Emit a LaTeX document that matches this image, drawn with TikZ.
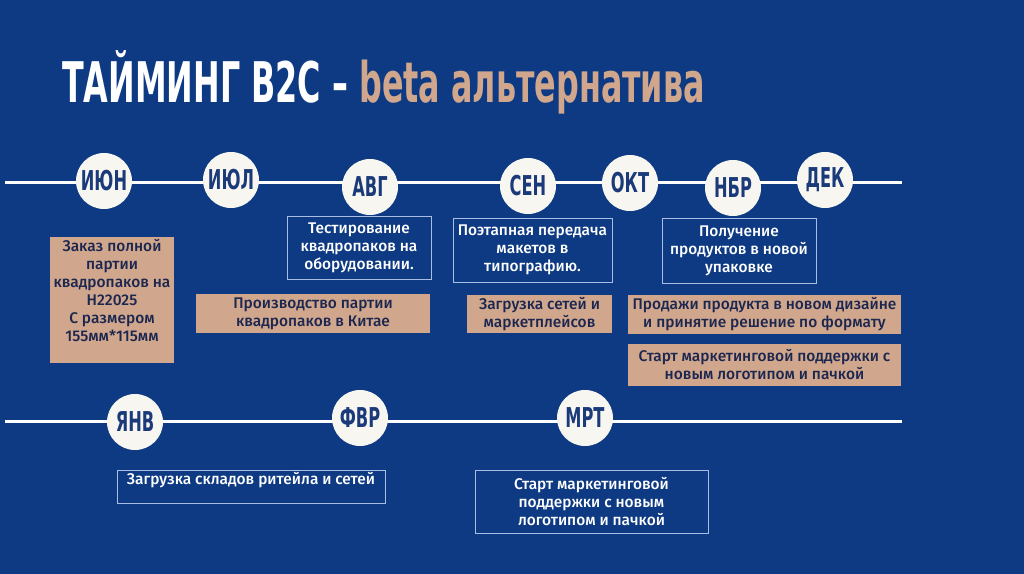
\documentclass[tikz,border=0pt]{standalone}
\usepackage{fontspec}
\usepackage{graphicx}
\setmainfont{Noto Sans}
\newfontfamily\medfont{Fira Sans}[UprightFont={* Medium}]
\newfontfamily\condfont{DejaVu Sans Condensed}
\definecolor{bgblue}{HTML}{0D3A82}
\definecolor{tan}{HTML}{D0A68C}
\definecolor{circfill}{HTML}{F8F6F1}
\definecolor{monthtxt}{HTML}{1B3A7A}
\definecolor{tantxt}{HTML}{1C2750}
\definecolor{outl}{HTML}{A9BEE3}
\newcommand{\mon}[1]{\scalebox{0.66}[1]{\condfont\bfseries\fontsize{20.5}{21}\selectfont #1}}
\tikzset{
  tline/.style={draw=white, line width=2.25pt},
  month/.style={circle, fill=circfill, minimum size=42pt, inner sep=0pt, text=monthtxt},
  bodytext/.style={font=\medfont\fontsize{11.6}{13.5}\selectfont},
  tanbox/.style={rectangle, fill=tan, inner sep=0pt, align=center, text=tantxt, bodytext},
  outbox/.style={rectangle, draw=outl, line width=0.75pt, inner sep=0pt, align=center, text=white, bodytext},
}
\begin{document}
\begin{tikzpicture}[x=0.75pt,y=-0.75pt]
\fill[bgblue] (0,0) rectangle (1024,574);
\useasboundingbox (0,0) rectangle (1024,574);
% title
\node[anchor=base west, inner sep=0pt] (title) at (62,103)
  {\resizebox{482pt}{\height}{\condfont\bfseries\fontsize{42}{44}\selectfont\textcolor{white}{ТАЙМИНГ B2C –} \textcolor{tan}{beta альтернатива}}};
% timelines
\coordinate (l1s) at (5,183);
\coordinate (l1e) at (902,183);
\coordinate (l2s) at (5,421);
\coordinate (l2e) at (902,421);
\draw[tline] (l1s) -- (l1e);
\draw[tline] (l2s) -- (l2e);
% months
\node[month] (jun) at (104,181) {\mon{ИЮН}};
\node[month] (jul) at (231,180) {\mon{ИЮЛ}};
\node[month] (aug) at (370,187) {\mon{АВГ}};
\node[month] (sep) at (528,186) {\mon{СЕН}};
\node[month] (oct) at (630,183) {\mon{ОКТ}};
\node[month] (nov) at (733,188) {\mon{НБР}};
\node[month] (dec) at (825,180) {\mon{ДЕК}};
\node[month] (jan) at (135,422) {\mon{ЯНВ}};
\node[month] (feb) at (360,418) {\mon{ФВР}};
\node[month] (mar) at (585,418) {\mon{МРТ}};
% boxes
\node[tanbox, minimum width=93pt, minimum height=94.5pt] (b1) at (112,300) {};
\node[align=center, text=tantxt, inner sep=0pt, bodytext] (b1t) at (112,291)
  {Заказ полной\\партии\\квадропаков на\\H22025\\С размером\\155мм*115мм};
\node[outbox, minimum width=108pt, minimum height=47.25pt] (b2) at (359,247.5)
  {Тестирование\\квадропаков на\\оборудовании.};
\node[tanbox, minimum width=175.5pt, minimum height=29.25pt] (b3) at (313,313.5)
  {Производство партии\\квадропаков в Китае};
\node[outbox, minimum width=119.25pt, minimum height=48pt] (b4) at (532.5,250)
  {Поэтапная передача\\макетов в\\типографию.};
\node[tanbox, minimum width=108.75pt, minimum height=28.5pt] (b5) at (539.5,314)
  {Загрузка сетей и\\маркетплейсов};
\node[outbox, minimum width=115.5pt, minimum height=48.75pt] (b6) at (739,250.5)
  {Получение\\продуктов в новой\\упаковке};
\node[tanbox, minimum width=204.75pt, minimum height=29.25pt] (b7) at (764.5,314.5)
  {Продажи продукта в новом дизайне\\и принятие решение по формату};
\node[tanbox, minimum width=204.75pt, minimum height=31.5pt] (b8) at (764.5,365)
  {Старт маркетинговой поддержки с\\новым логотипом и пачкой};
\node[outbox, minimum width=201pt, minimum height=24.75pt] (b9) at (251,486.5) {};
\node[text=white, inner sep=0pt, bodytext] (b9t) at (251,480)
  {Загрузка складов ритейла и сетей};
\node[outbox, minimum width=174.75pt, minimum height=47.25pt] (b10) at (591.5,501.5)
  {Старт маркетинговой\\поддержки с новым\\логотипом и пачкой};
\end{tikzpicture}
\end{document}
